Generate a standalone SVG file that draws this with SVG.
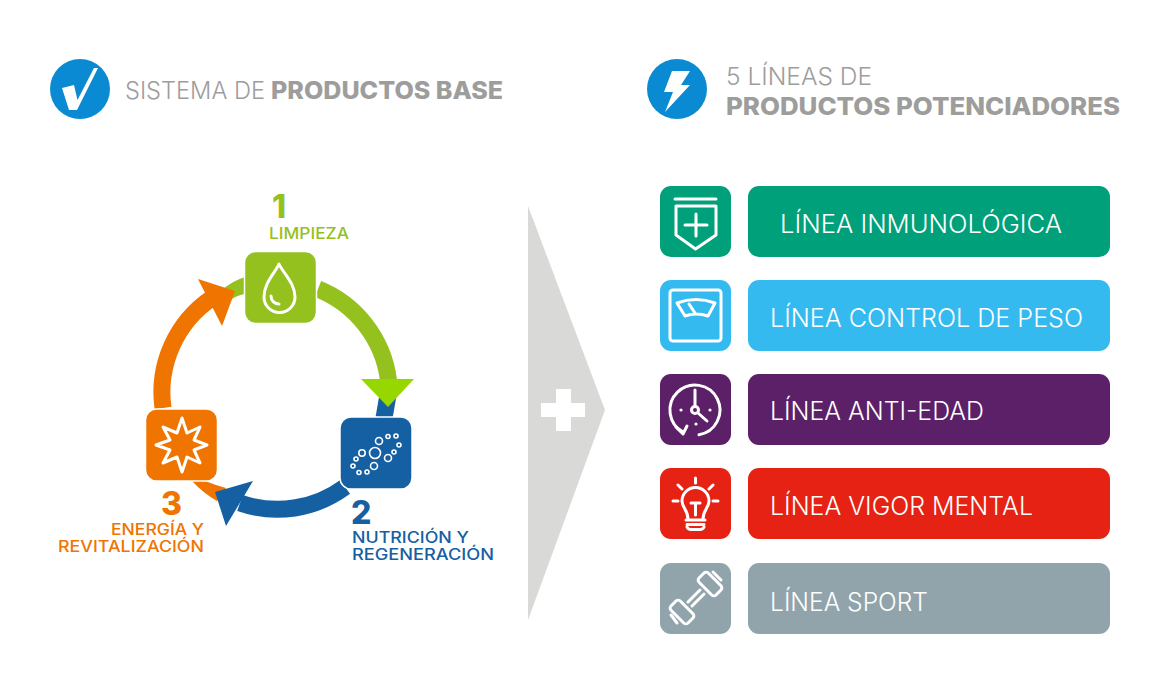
<svg xmlns="http://www.w3.org/2000/svg" width="1167" height="689" viewBox="0 0 1167 689">
<style>
text{font-family:Inter,"Open Sans","Liberation Sans",sans-serif}
.h{font-size:24px;fill:#9d9d9c;font-weight:300}
.hb{font-size:24px;fill:#9d9d9c;font-weight:800}
.l{font-size:25px;fill:#fff;font-weight:300}
.n{font-size:32px;font-weight:800}
.c{font-size:15.500px;font-weight:500}
.sq{stroke:#fff;stroke-width:1.5}
.i{fill:none;stroke:#fff;stroke-width:3;stroke-linecap:round;stroke-linejoin:round}
.w{fill:#fff}
.arc{fill:none;stroke-width:17}
.g{stroke:#95c11f}.b{stroke:#1560a3}.o{stroke:#f07400}
</style>
<rect width="1167" height="689" fill="#fff"/>
<g id="header-left">
<circle cx="80" cy="89" r="30" fill="#0a8ad2"/>
<path class="w" d="M62 88L74 85L77.500 100L94 68L98 68L77 110L69 110Z"/>
<text class="h" x="125" y="99" textLength="140" lengthAdjust="spacingAndGlyphs">SISTEMA DE</text>
<text class="hb" x="271" y="99" textLength="232" lengthAdjust="spacingAndGlyphs">PRODUCTOS BASE</text>
</g>
<g id="header-right">
<circle cx="677" cy="89" r="30" fill="#0a8ad2"/>
<path class="w" d="M672 71L690 71L681 85L690 85L665 112L673 92L664 92Z"/>
<text class="h" x="726" y="85" textLength="146" lengthAdjust="spacingAndGlyphs">5 LÍNEAS DE</text>
<text class="hb" x="726" y="115" textLength="394" lengthAdjust="spacingAndGlyphs">PRODUCTOS POTENCIADORES</text>
</g>
<g id="connectors">
<path fill="#95c11f" d="M222 290Q232 281 245 277V294Q238 295 230 300Z"/>
<path class="arc g" d="M318 289A114 114 0 0 1 388.500 380"/>
<path class="arc b" d="M388 395L384 418"/>
<path fill="#97d700" d="M361 379L414 379L388 407Z"/>
<path fill="#f07400" d="M192 481H205Q215 485 226 488L217 501Q203 493 192 481Z"/>
<path class="arc b" d="M345 487A114 114 0 0 1 240 503"/>
<path fill="#1560a3" d="M253 481L215 492L226 526Z"/>
<path class="arc o" d="M163 408A114 114 0 0 1 212 298"/>
<path fill="#f07400" d="M198 279L235 291L222 326Z"/>
</g>
<g id="plus-arrow">
<path fill="#d9d9d8" d="M528 206L605 410L528 620Z"/>
<path class="w" d="M556 389H571V403H585V417H571V431H556V417H541V403H556Z"/>
</g>
<g id="step-1">
<rect class="sq" x="244.500" y="251.500" width="72" height="72" rx="11" fill="#95c11f"/>
<path class="i" d="M279 264C275 273 264 283 264 297A15.500 15.500 0 0 0 295 297C295 283 283 273 279 264Z"/>
<path class="i" stroke-width="2" d="M271 296C271 301 275 304 279 304"/>
<text class="n" x="272" y="218" fill="#95c11f">1</text>
<text class="c" x="269" y="239" fill="#95c11f" textLength="80" lengthAdjust="spacingAndGlyphs">LIMPIEZA</text>
</g>
<g id="step-2">
<rect class="sq" x="340" y="417" width="72" height="72" rx="11" fill="#1560a3"/>
<g fill="none" stroke="#fff" stroke-width="1.600">
<circle cx="375" cy="453" r="5.500"/><circle cx="379" cy="441" r="3.500"/><circle cx="388" cy="436.500" r="2"/><circle cx="396" cy="436" r="2"/><circle cx="399" cy="445" r="2"/><circle cx="394" cy="452" r="2"/><circle cx="388" cy="458" r="3.500"/><circle cx="362" cy="453" r="3.200"/><circle cx="356" cy="459" r="2"/><circle cx="353" cy="466" r="2"/><circle cx="359" cy="472.500" r="2"/><circle cx="367" cy="472" r="2"/><circle cx="374" cy="466" r="3.500"/>
</g>
<text class="n" x="351" y="524" fill="#1560a3">2</text>
<text class="c" x="352" y="543" fill="#1560a3" textLength="117" lengthAdjust="spacingAndGlyphs">NUTRICIÓN Y</text>
<text class="c" x="352" y="560" fill="#1560a3" textLength="142" lengthAdjust="spacingAndGlyphs">REGENERACIÓN</text>
</g>
<g id="step-3">
<rect class="sq" x="145.500" y="409" width="72" height="72" rx="11" fill="#f07400"/>
<path class="i" d="M182 418L187 433L200 427L194 440L207 445L194 450L200 463L187 457L182 472L177 457L163 463L170 450L156 445L170 440L163 427L177 433Z"/>
<text class="n" x="161" y="515" fill="#f07400">3</text>
<text class="c" x="111" y="535" fill="#f07400" textLength="93" lengthAdjust="spacingAndGlyphs">ENERGÍA Y</text>
<text class="c" x="58" y="552" fill="#f07400" textLength="146" lengthAdjust="spacingAndGlyphs">REVITALIZACIÓN</text>
</g>
<g id="line-inmunologica">
<rect x="660" y="186" width="71" height="71" rx="11" fill="#00a07a"/>
<rect x="748" y="186" width="362" height="71" rx="11" fill="#00a07a"/>
<path class="i" d="M675 199H716M676 206V235L695.500 249L716 235V206Z"/>
<path class="i" d="M696 214V236M685 225H707"/>
<text class="l" x="780" y="233" textLength="282" lengthAdjust="spacingAndGlyphs">LÍNEA INMUNOLÓGICA</text>
</g>
<g id="line-peso">
<rect x="660" y="280" width="71" height="71" rx="11" fill="#35baf0"/>
<rect x="748" y="280" width="362" height="71" rx="11" fill="#35baf0"/>
<rect class="i" x="670" y="290" width="51" height="51" rx="3"/>
<path class="i" d="M677 303Q696 296 715 303L708 316Q696 312 685 316ZM689 304L695 313"/>
<text class="l" x="770" y="327" textLength="313" lengthAdjust="spacingAndGlyphs">LÍNEA CONTROL DE PESO</text>
</g>
<g id="line-antiedad">
<rect x="660" y="374" width="71" height="71" rx="11" fill="#5b2068"/>
<rect x="748" y="374" width="362" height="71" rx="11" fill="#5b2068"/>
<path class="i" d="M683 432A25 25 0 1 1 699 434.700"/>
<path class="i" d="M676 427L683 434L687 426"/>
<circle class="i" cx="695" cy="410" r="3.500"/>
<path class="i" d="M695 406V390M698 413L707 421"/>
<g class="w"><circle cx="681" cy="410" r="1.600"/><circle cx="710" cy="410" r="1.600"/><circle cx="696" cy="424" r="1.600"/></g>
<text class="l" x="770" y="420" textLength="214" lengthAdjust="spacingAndGlyphs">LÍNEA ANTI-EDAD</text>
</g>
<g id="line-vigor">
<rect x="660" y="468" width="71" height="71" rx="11" fill="#e52213"/>
<rect x="748" y="468" width="362" height="71" rx="11" fill="#e52213"/>
<path class="i" d="M688 519C688 510 682 508 682 501A13.500 13.500 0 0 1 709 501C709 508 703 510 703 519M686 520H705M687 524.500H704M687 527Q688 529.500 691 529.500H700Q703 529.500 704 527"/>
<path class="i" d="M691 503H700M695.500 503V515M695.500 478V483M678 485L682 489M713 485L709 489M673 501H678M713 501H718"/>
<text class="l" x="770" y="515" textLength="263" lengthAdjust="spacingAndGlyphs">LÍNEA VIGOR MENTAL</text>
</g>
<g id="line-sport">
<rect x="660" y="563" width="71" height="71" rx="11" fill="#91a4ab"/>
<rect x="748" y="563" width="362" height="71" rx="11" fill="#91a4ab"/>
<rect class="i" x="698" y="577.500" width="24" height="13" rx="3" transform="rotate(45 710 584)"/>
<rect class="i" x="670" y="605.500" width="24" height="13" rx="3" transform="rotate(45 682 612)"/>
<path class="i" d="M700 590L688 602M704 594L692 606M713 572L721 580M671 615L677 623"/>
<text class="l" x="770" y="611" textLength="158" lengthAdjust="spacingAndGlyphs">LÍNEA SPORT</text>
</g>
</svg>
